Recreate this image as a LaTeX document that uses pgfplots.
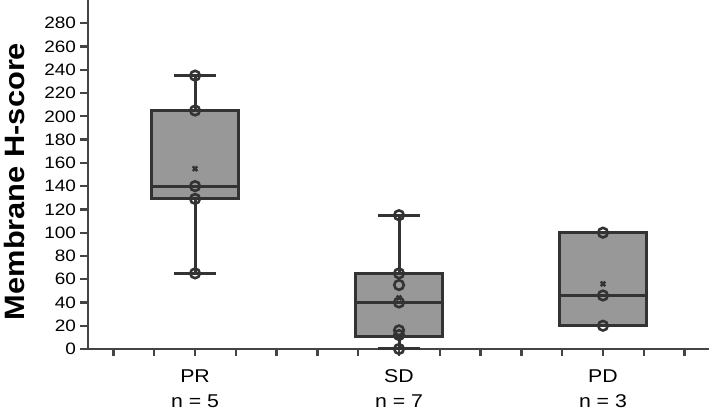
\documentclass[border=0pt]{standalone}
\usepackage{fontspec}
\setmainfont{Liberation Sans}
\newfontfamily\tickfont[FakeStretch=1.15]{Liberation Sans}
\newfontfamily\labfont[FakeStretch=1.1]{Liberation Sans}
\usepackage{pgfplots}
\pgfplotsset{compat=1.18}
\definecolor{boxfill}{HTML}{989898}
\definecolor{dk}{HTML}{333333}
\definecolor{ax}{HTML}{444444}
\begin{document}
\begin{tikzpicture}
\useasboundingbox (0,0) rectangle (709pt,414pt);
\begin{axis}[
  at={(88pt,65pt)}, anchor=south west,
  scale only axis, width=621pt, height=349pt,
  xmin=-0.525, xmax=2.52, ymin=0, ymax=300,
  axis x line*=bottom, axis y line*=left,
  axis line style={ax, line width=2.6pt},
  every outer x axis line/.append style={-}, every outer y axis line/.append style={-},
  ytick={0,20,...,280},
  xtick={-0.4,-0.2,0,0.2,0.4,0.6,0.8,1,1.2,1.4,1.6,1.8,2,2.2,2.4},
  xticklabels={,,{PR\\n = 5},,,,,{SD\\n = 7},,,,,{PD\\n = 3},,},
  tick align=outside, major tick length=7.5pt,
  tick style={ax, line width=2.3pt},
  /pgf/number format/assume math mode=true,
  yticklabel style={font=\tickfont\fontsize{16.5}{18}\selectfont, text=black, xshift=-1pt},
  xticklabel style={font=\tickfont\fontsize{18.5}{25}\selectfont, text=black, align=center, yshift=-10pt},
  ylabel={\labfont\bfseries Membrane H-score},
  ylabel style={font=\fontsize{28}{30}\selectfont, at={(axis description cs:-0.118,0.48)}, anchor=center},
  clip=false,
]
% boxes (Q1..Q3)
\addplot[draw=dk, fill=boxfill, line width=3pt] coordinates {(-0.213,129) (0.213,129) (0.213,205) (-0.213,205)} -- cycle;
\addplot[draw=dk, fill=boxfill, line width=3pt] coordinates {(0.787,11) (1.213,11) (1.213,65) (0.787,65)} -- cycle;
\addplot[draw=dk, fill=boxfill, line width=3pt] coordinates {(1.787,20) (2.213,20) (2.213,100) (1.787,100)} -- cycle;
% medians
\addplot[draw=dk, line width=3pt] coordinates {(-0.213,140) (0.213,140)};
\addplot[draw=dk, line width=3pt] coordinates {(0.787,40) (1.213,40)};
\addplot[draw=dk, line width=3pt] coordinates {(1.787,46) (2.213,46)};
% whiskers
\addplot[draw=dk, line width=3pt] coordinates {(0,205) (0,235)};
\addplot[draw=dk, line width=3pt] coordinates {(0,129) (0,65)};
\addplot[draw=dk, line width=3pt] coordinates {(-0.103,235) (0.103,235)};
\addplot[draw=dk, line width=3pt] coordinates {(-0.103,65) (0.103,65)};
\addplot[draw=dk, line width=3pt] coordinates {(1,65) (1,115)};
\addplot[draw=dk, line width=3pt] coordinates {(1,11) (1,0)};
\addplot[draw=dk, line width=3pt] coordinates {(0.897,115) (1.103,115)};
\addplot[draw=dk, line width=3pt] coordinates {(0.897,0) (1.103,0)};
% data points
\addplot[only marks, mark=o, mark size=4.8pt, mark options={draw=dk, line width=2.6pt}]
  coordinates {(0,235) (0,205) (0,140) (0,129) (0,65)
               (1,115) (1,65) (1,55) (1,40) (1,16) (1,12) (1,0)
               (2,100) (2,46) (2,20)};
% means
\addplot[only marks, mark=x, mark size=3.2pt, mark options={draw=dk, line width=2.4pt}]
  coordinates {(0,155) (1,44) (2,56)};
\end{axis}
\end{tikzpicture}
\end{document}
